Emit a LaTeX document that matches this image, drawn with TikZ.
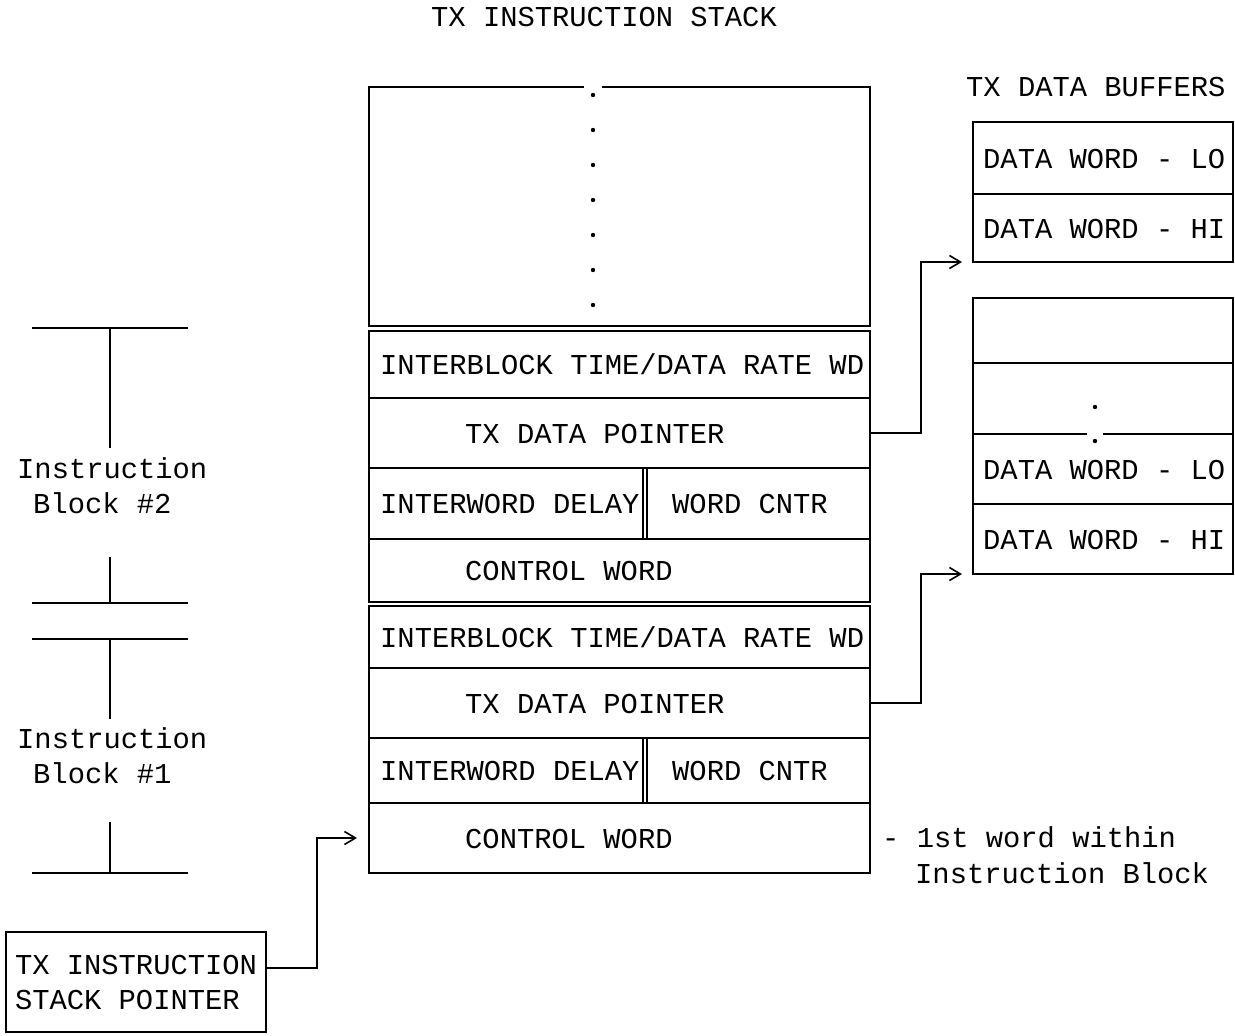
\documentclass[tikz,border=0pt]{standalone}
\usepackage{fontspec}
\usepackage{tikz}
\usetikzlibrary{arrows.meta,positioning}
\newfontfamily\monofont{Liberation Mono}
\newcommand{\stackfont}{\monofont\fontsize{28.8}{35}\selectfont}
\tikzset{
    cell/.style={
        rectangle, draw, line width=1.6pt,
        inner sep=0pt, outer sep=0pt,
        minimum width=501pt
    },
    bufcell/.style={
        cell, minimum width=260pt
    },
    txt/.style={
        font=\stackfont, inner sep=0pt,
        text height=20pt, text depth=0pt
    },
    bar/.style={line width=1.6pt},
    arrow/.style={-{Straight Barb[length=11pt,width=13pt]}, line width=1.6pt},
}

\begin{document}
\begin{tikzpicture}[x=1pt, y=-1pt]
    \useasboundingbox (0,0) rectangle (1235,1036);

    % Title
    \node[txt, anchor=base west] (title) at (431,27) {TX INSTRUCTION STACK};

    % Instruction stack
    \node[cell, minimum height=239pt, anchor=north west] (stk) at (369,87) {};
    \fill[white] (584,84) rectangle (602,90);
    \foreach \y in {95,130,...,305}
        \fill (593,\y) circle[radius=2.2pt];

    % Instruction block #2
    \node[cell, minimum height=67pt, below=5pt of stk] (ibt2) {};
    \node[cell, minimum height=70pt, below=0pt of ibt2] (ptr2) {};
    \node[cell, minimum width=274pt, minimum height=71pt, anchor=north west] (idl2) at (ptr2.south west) {};
    \node[cell, minimum width=223pt, minimum height=71pt, anchor=north east] (cnt2) at (ptr2.south east) {};
    \node[cell, minimum height=63pt, anchor=north west] (ctl2) at (idl2.south west) {};

    % Instruction block #1
    \node[cell, minimum height=62pt, below=4pt of ctl2] (ibt1) {};
    \node[cell, minimum height=70pt, below=0pt of ibt1] (ptr1) {};
    \node[cell, minimum width=274pt, minimum height=65pt, anchor=north west] (idl1) at (ptr1.south west) {};
    \node[cell, minimum width=223pt, minimum height=65pt, anchor=north east] (cnt1) at (ptr1.south east) {};
    \node[cell, minimum height=70pt, anchor=north west] (ctl1) at (idl1.south west) {};

    % Stack texts
    \foreach \n in {1,2} {
        \node[txt, right=11pt of ibt\n.west] {INTERBLOCK TIME/DATA RATE WD};
        \node[txt, right=96pt of ptr\n.west] {TX DATA POINTER};
        \node[txt, right=11pt of idl\n.west] {INTERWORD DELAY};
        \node[txt, right=25pt of cnt\n.west] {WORD CNTR};
        \node[txt, right=96pt of ctl\n.west] {CONTROL WORD};
    }

    % Data buffers
    \node[txt, anchor=base west] (buftitle) at (966,96) {TX DATA BUFFERS};
    \node[bufcell, minimum height=72pt, anchor=north west] (lo1) at (973,122) {};
    \node[bufcell, minimum height=68pt, below=0pt of lo1] (hi1) {};

    \node[bufcell, minimum height=65pt, anchor=north west] (gap2) at (973,298) {};
    \node[bufcell, minimum height=71pt, below=0pt of gap2] (dot2) {};
    \node[bufcell, minimum height=70pt, below=0pt of dot2] (lo2) {};
    \node[bufcell, minimum height=70pt, below=0pt of lo2] (hi2) {};
    \fill[white] (1087,431) rectangle (1103,437);
    \fill (1095,407) circle[radius=2.2pt];
    \fill (1095,441) circle[radius=2.2pt];

    \foreach \n in {1,2} {
        \node[txt, right=10pt of lo\n.west] {DATA WORD - LO};
        \node[txt, right=10pt of hi\n.west] {DATA WORD - HI};
    }

    % Stack pointer
    \node[cell, minimum width=260pt, minimum height=100pt, anchor=north west,
          inner xsep=9pt, align=left, font=\stackfont] (sp) at (6,932)
        {TX INSTRUCTION\\STACK POINTER};

    % Arrows
    \draw[arrow] (ptr2.east) -- ++(51,0) |- ([xshift=-11pt]hi1.south west);
    \draw[arrow] (ptr1.east) -- ++(51,0) |- ([xshift=-11pt]hi2.south west);
    \draw[arrow] ([yshift=14pt]sp.east) -- ++(51,0) |- ([xshift=-12pt]ctl1.west);

    % Block brackets
    \draw[bar] (32,328) -- (188,328) (110,328) -- (110,448);
    \draw[bar] (110,557) -- (110,603) (32,603) -- (188,603);
    \node[txt, anchor=base west] at (17,478) {Instruction};
    \node[txt, anchor=base west] at (33,513) {Block \#2};

    \draw[bar] (32,639) -- (188,639) (110,639) -- (110,719);
    \draw[bar] (110,822) -- (110,873) (32,873) -- (188,873);
    \node[txt, anchor=base west] at (17,748) {Instruction};
    \node[txt, anchor=base west] at (33,783) {Block \#1};

    % Note on first word
    \node[txt, anchor=base west] at (882,847) {- 1st word within};
    \node[txt, anchor=base west] at (915,883) {Instruction Block};

\end{tikzpicture}
\end{document}
